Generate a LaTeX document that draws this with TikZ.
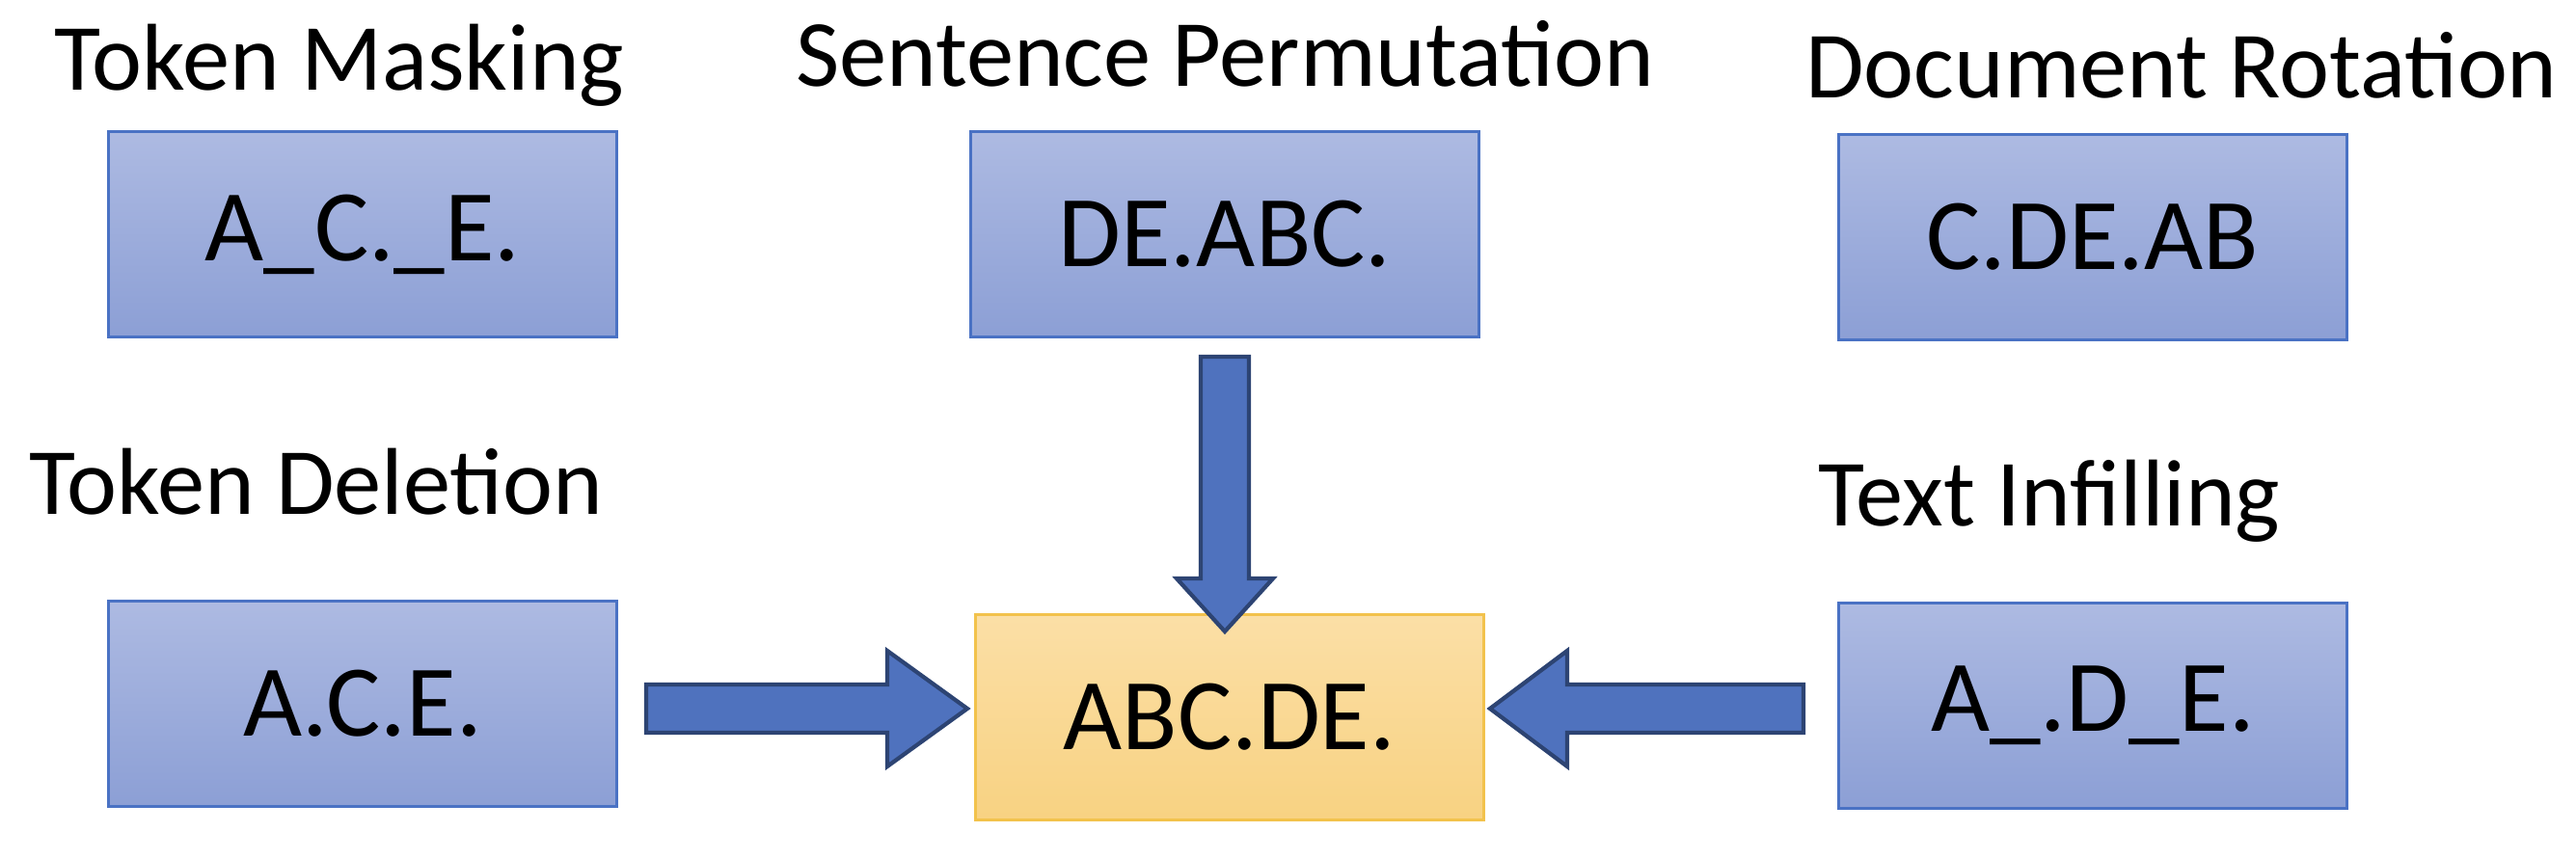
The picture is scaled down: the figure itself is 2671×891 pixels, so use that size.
\documentclass[tikz,border=0pt]{standalone}
\usepackage{fontspec}
\setmainfont{Carlito}
\begin{document}
\begin{tikzpicture}[x=0.01cm,y=-0.01cm,
  box/.style={draw=boxb,line width=0.8pt,top color=boxt,bottom color=boxbt,minimum width=527*0.01cm,minimum height=213*0.01cm,font=\fontsize{30}{35}\selectfont,inner sep=0pt},
  ybox/.style={box,draw=yb,top color=yt,bottom color=ybt},
  lab/.style={font=\fontsize{28}{33}\selectfont,inner sep=0pt},
  barrow/.style={fill=arf,draw=ard,line width=1.2pt,line join=miter}]
\definecolor{boxb}{HTML}{4A72C4}
\definecolor{boxt}{HTML}{ADBAE2}
\definecolor{boxbt}{HTML}{8C9FD5}
\definecolor{yb}{HTML}{F2C24C}
\definecolor{yt}{HTML}{FBDFA6}
\definecolor{ybt}{HTML}{F8D282}
\definecolor{arf}{HTML}{4F72BE}
\definecolor{ard}{HTML}{2D4473}
\useasboundingbox (0,0) rectangle (2671,891);
\node[box] (tm) at (376,243) {A\_C.\_E.};
\node[box] (sp) at (1270,243) {DE.ABC.};
\node[box] (dr) at (2170,246) {C.DE.AB};
\node[box] (td) at (376,730) {A.C.E.};
\node[ybox] (out) at (1275,744) {ABC.DE.};
\node[box] (ti) at (2170,732) {A\_.D\_E.};
\node[lab] (ltm) at (352,68) {Token Masking};
\node[lab] (lsp) at (1270,56) {Sentence Permutation};
\node[lab] (ldr) at (2262,68) {Document Rotation};
\node[lab] (ltd) at (328,500) {Token Deletion};
\node[lab] (lti) at (2125,520) {Text Infilling};
% down arrow
\draw[barrow] (1245,370) -- (1295,370) -- (1295,600) -- (1320,600) -- (1270,655) -- (1220,600) -- (1245,600) -- cycle;
% right arrow
\draw[barrow] (670,710) -- (920,710) -- (920,675) -- (1003,735) -- (920,795) -- (920,760) -- (670,760) -- cycle;
% left arrow
\draw[barrow] (1870,710) -- (1625,710) -- (1625,675) -- (1545,735) -- (1625,795) -- (1625,760) -- (1870,760) -- cycle;
\end{tikzpicture}
\end{document}
